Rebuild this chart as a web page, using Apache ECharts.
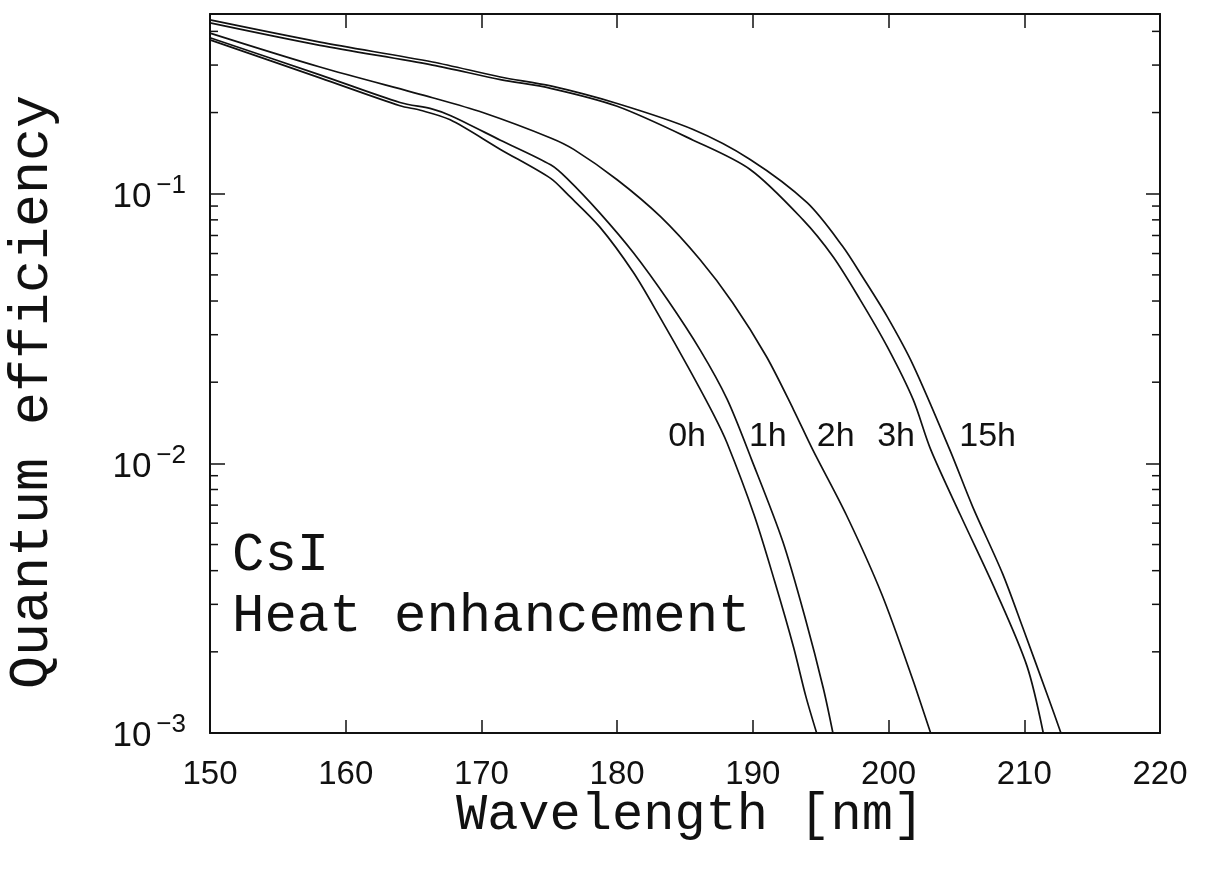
<!DOCTYPE html>
<html>
<head>
<meta charset="utf-8">
<script src="https://cdn.jsdelivr.net/npm/echarts@6/dist/echarts.min.js"></script>
<style>
html,body{margin:0;padding:0;background:#ffffff;}
#chart{width:1206px;height:878px;}
</style>
</head>
<body>
<div id="chart"></div>
<script>
// ---- data ----
const xTicks = [150, 160, 170, 180, 190, 200, 210, 220];
const yMajorTicks = [0.001, 0.01, 0.1];
const yMinorTicks = [0.002,0.003,0.004,0.005,0.006,0.007,0.008,0.009,
                     0.02,0.03,0.04,0.05,0.06,0.07,0.08,0.09,
                     0.2,0.3,0.4];

const wl0h = [150, 158.1, 164.0, 165.5, 167.7, 171.4, 175.1, 176.3, 178.7, 181.2, 183.2, 185.2, 187.1, 188.1, 190.1, 191.6, 193.0, 193.9, 194.7];
const qe0h = [0.372, 0.269, 0.212, 0.204, 0.188, 0.146, 0.114, 0.100, 0.0755, 0.0510, 0.0345, 0.0229, 0.0152, 0.01190, 0.00642, 0.00366, 0.00208, 0.00137, 0.001];

const wl1h = [150, 158.1, 164.0, 166.4, 167.7, 171.4, 175.1, 176.3, 178.7, 181.2, 183.7, 186.1, 188.1, 189.9, 192.2, 193.9, 195.2, 195.9];
const qe1h = [0.379, 0.276, 0.218, 0.206, 0.195, 0.158, 0.128, 0.114, 0.0851, 0.0604, 0.0405, 0.0264, 0.0173, 0.01035, 0.00514, 0.00262, 0.00146, 0.001];

const wl2h = [150, 158.1, 166.4, 170.1, 175.1, 176.8, 180.0, 183.2, 186.1, 188.5, 191.0, 193.0, 194.4, 196.9, 199.5, 201.8, 203.1];
const qe2h = [0.394, 0.295, 0.227, 0.200, 0.161, 0.146, 0.1127, 0.0822, 0.057, 0.0395, 0.0249, 0.0158, 0.01127, 0.00642, 0.00327, 0.00157, 0.001];

const wl3h = [150, 158.1, 166.4, 171.4, 175.1, 180.0, 185.6, 189.8, 193.7, 195.9, 197.9, 199.9, 201.8, 203.1, 205.3, 207.9, 210.2, 211.4];
const qe3h = [0.430, 0.355, 0.300, 0.265, 0.246, 0.211, 0.158, 0.123, 0.080, 0.0585, 0.0405, 0.0271, 0.0173, 0.01127, 0.00642, 0.00336, 0.00177, 0.001];

const wl15h = [150, 158.1, 166.4, 171.4, 175.1, 180.0, 185.6, 189.8, 194.0, 196.6, 198.1, 199.9, 201.8, 204.5, 206.2, 208.4, 209.9, 211.8, 212.7];
const qe15h = [0.441, 0.365, 0.308, 0.271, 0.251, 0.216, 0.173, 0.134, 0.0926, 0.0640, 0.049, 0.035, 0.0232, 0.01127, 0.00690, 0.00390, 0.00245, 0.00134, 0.001];

const curveNames = ['0h', '1h', '2h', '3h', '15h'];
const curveLabelX = [185.15, 191.1, 196.1, 200.55, 207.3];
const curveLabelY = [0.0126, 0.0126, 0.0126, 0.0126, 0.0126];

const xTitle = 'Wavelength [nm]';
const yTitle = 'Quantum efficiency';
const noteLines = ['CsI', 'Heat enhancement'];

// ---- chart ----
const INK = '#111111';
const SANS = '"Liberation Sans", Arial, sans-serif';
const MONO = '"Liberation Mono", "Courier New", monospace';

const pairs = (xs, ys) => xs.map((x, i) => [x, ys[i]]);
const curves = [[wl0h, qe0h], [wl1h, qe1h], [wl2h, qe2h], [wl3h, qe3h], [wl15h, qe15h]];

const isPow10 = v => {
  const l = Math.log10(v);
  return Math.abs(l - Math.round(l)) < 1e-6;
};

const lineSeries = curves.map((c, i) => ({
  name: curveNames[i],
  type: 'line',
  xAxisIndex: 0, yAxisIndex: 0,
  data: pairs(c[0], c[1]),
  showSymbol: false,
  smooth: 0.3,
  silent: true,
  lineStyle: {color: INK, width: 1.7},
  z: 3
}));

const chart = echarts.init(document.getElementById('chart'), null, {renderer: 'canvas'});

const commonX = {
  type: 'value', min: xTicks[0], max: xTicks[xTicks.length - 1], interval: 10,
  splitLine: {show: false},
  axisLine: {show: true, onZero: false, lineStyle: {color: INK, width: 2}}
};
const commonY = {
  type: 'log', logBase: 10, min: yMajorTicks[0], max: 0.464,
  splitLine: {show: false},
  minorTick: {show: false},
  axisLine: {show: true, onZero: false, lineStyle: {color: INK, width: 2}}
};

chart.setOption({
  animation: false,
  backgroundColor: '#ffffff',
  grid: {left: 210, right: 46, top: 14, bottom: 145, containLabel: false},
  xAxis: [
    Object.assign({}, commonX, {
      position: 'bottom',
      axisTick: {show: true, inside: true, length: 13, lineStyle: {color: INK, width: 1.5}},
      axisLabel: {show: true, margin: 25, color: INK, fontFamily: SANS, fontSize: 33,
                  formatter: v => String(v)}
    }),
    Object.assign({}, commonX, {
      position: 'top',
      axisTick: {show: true, inside: true, length: 14, lineStyle: {color: INK, width: 1.5}},
      axisLabel: {show: false}
    })
  ],
  yAxis: [
    Object.assign({}, commonY, {
      position: 'left',
      axisTick: {show: true, inside: true, length: 15, lineStyle: {color: INK, width: 1.5}},
      axisLabel: {
        show: true, margin: 24, showMaxLabel: false,
        formatter: v => {
          if (!isPow10(v)) return '';
          const e = Math.round(Math.log10(v));
          return '{b|10}{s|' + (e < 0 ? '\u2212' : '') + Math.abs(e) + '}';
        },
        rich: {
          b: {fontFamily: SANS, fontSize: 35, color: INK, verticalAlign: 'bottom', padding: [0, 5, 0, 0]},
          s: {fontFamily: SANS, fontSize: 26, color: INK, verticalAlign: 'bottom', padding: [0, 0, 16, 0]}
        }
      }
    }),
    Object.assign({}, commonY, {
      position: 'right',
      axisTick: {show: true, inside: true, length: 14, lineStyle: {color: INK, width: 1.5}},
      axisLabel: {show: false}
    })
  ],
  series: lineSeries.concat([
    {
      type: 'custom',
      name: 'minor ticks',
      xAxisIndex: 0, yAxisIndex: 0,
      silent: true,
      clip: false,
      data: yMinorTicks.map(v => [xTicks[0], v]),
      renderItem: (params, api) => {
        const v = api.value(1);
        const pL = api.coord([xTicks[0], v]);
        const pR = api.coord([xTicks[xTicks.length - 1], v]);
        return {
          type: 'group',
          children: [
            {type: 'line', shape: {x1: pL[0], y1: pL[1], x2: pL[0] + 8, y2: pL[1]}, style: {stroke: INK, lineWidth: 1.5}},
            {type: 'line', shape: {x1: pR[0], y1: pR[1], x2: pR[0] - 8, y2: pR[1]}, style: {stroke: INK, lineWidth: 1.5}}
          ]
        };
      },
      z: 4
    },
    {
      type: 'scatter',
      name: 'curve labels',
      xAxisIndex: 0, yAxisIndex: 0,
      silent: true,
      symbolSize: 0,
      itemStyle: {opacity: 1, color: INK},
      data: curveNames.map((n, i) => ({name: n, value: [curveLabelX[i], curveLabelY[i]]})),
      label: {
        show: true, position: 'inside', formatter: '{b}',
        fontFamily: SANS, fontSize: 34, color: INK, opacity: 1
      },
      z: 5
    }
  ]),
  graphic: [
    {type: 'text', x: 690, y: 815, silent: true,
     style: {text: xTitle, font: '52px ' + MONO, fill: INK, align: 'center', verticalAlign: 'middle'}},
    {type: 'text', x: 32, y: 392, rotation: Math.PI / 2, silent: true,
     style: {text: yTitle, font: '55px ' + MONO, fill: INK, align: 'center', verticalAlign: 'middle'}},
    {type: 'text', x: 232, y: 556, silent: true,
     style: {text: noteLines[0], font: '54px ' + MONO, fill: INK, align: 'left', verticalAlign: 'middle'}},
    {type: 'text', x: 232, y: 617, silent: true,
     style: {text: noteLines[1], font: '54px ' + MONO, fill: INK, align: 'left', verticalAlign: 'middle'}}
  ]
});
</script>
</body>
</html>
